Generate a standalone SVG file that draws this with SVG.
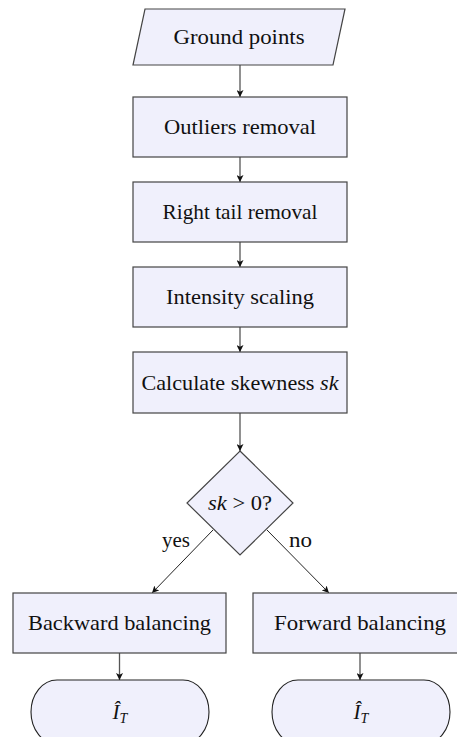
<svg xmlns="http://www.w3.org/2000/svg" width="457" height="737" viewBox="0 0 457 737">
  <defs>
    <marker id="arrow" viewBox="0 0 10 10" refX="10" refY="5" markerWidth="7" markerHeight="7" markerUnits="userSpaceOnUse" orient="auto">
      <path d="M0,0 L10,5 L0,10 L2.5,5 Z" fill="#111"/>
    </marker>
    <style>
      .box { fill: #f0f0fc; stroke: #444; stroke-width: 1.2; }
      .term { fill: #f0f0fc; stroke: #222; stroke-width: 1.1; }
      .lbl { font-family: "Liberation Serif", "Times New Roman", serif; font-size: 21px; fill: #111; text-anchor: middle; }
      .side { font-family: "Liberation Serif", "Times New Roman", serif; font-size: 21px; fill: #111; }
      .it { font-style: italic; }
      .vline { stroke: #555; stroke-width: 1.3; fill: none; }
      .dline { stroke: #222; stroke-width: 1; fill: none; }
    </style>
  </defs>

  <rect width="457" height="737" fill="#ffffff"/>

  <!-- connectors -->
  <g id="connectors">
    <line class="vline" x1="240" y1="65" x2="240" y2="97" marker-end="url(#arrow)"/>
    <line class="vline" x1="240" y1="157" x2="240" y2="182" marker-end="url(#arrow)"/>
    <line class="vline" x1="240" y1="242" x2="240" y2="267" marker-end="url(#arrow)"/>
    <line class="vline" x1="240" y1="327" x2="240" y2="352" marker-end="url(#arrow)"/>
    <line class="vline" x1="240" y1="413" x2="240" y2="451" marker-end="url(#arrow)"/>
    <line class="dline" x1="213" y1="530" x2="152" y2="593" marker-end="url(#arrow)"/>
    <line class="dline" x1="267" y1="530" x2="329" y2="593" marker-end="url(#arrow)"/>
    <line class="vline" x1="119.5" y1="653" x2="119.5" y2="680" marker-end="url(#arrow)"/>
    <line class="vline" x1="360" y1="653" x2="360" y2="680" marker-end="url(#arrow)"/>
    <text class="side" x="162" y="547" textLength="28" lengthAdjust="spacingAndGlyphs">yes</text>
    <text class="side" x="289" y="547" textLength="23" lengthAdjust="spacingAndGlyphs">no</text>
  </g>

  <!-- input -->
  <g id="ground-points">
    <polygon class="box" points="145,9 345,9 333,65 133,65"/>
    <text class="lbl" x="239" y="44" textLength="131" lengthAdjust="spacingAndGlyphs">Ground points</text>
  </g>

  <g id="outliers-removal">
    <rect class="box" x="133" y="97" width="214" height="60"/>
    <text class="lbl" x="240" y="134" textLength="152" lengthAdjust="spacingAndGlyphs">Outliers removal</text>
  </g>

  <g id="right-tail-removal">
    <rect class="box" x="133" y="182" width="214" height="60"/>
    <text class="lbl" x="240" y="219" textLength="155" lengthAdjust="spacingAndGlyphs">Right tail removal</text>
  </g>

  <g id="intensity-scaling">
    <rect class="box" x="133" y="267" width="214" height="60"/>
    <text class="lbl" x="240" y="304" textLength="148" lengthAdjust="spacingAndGlyphs">Intensity scaling</text>
  </g>

  <g id="calculate-skewness">
    <rect class="box" x="133" y="352" width="214" height="61"/>
    <text class="lbl" x="240" y="390" textLength="197" lengthAdjust="spacingAndGlyphs">Calculate skewness <tspan class="it">sk</tspan></text>
  </g>

  <!-- decision -->
  <g id="decision">
    <polygon class="box" points="240,451 293,503 240,555 187,503"/>
    <text class="lbl" x="240" y="510" textLength="64" lengthAdjust="spacingAndGlyphs"><tspan class="it">sk</tspan> &gt; 0?</text>
  </g>

  <g id="backward-balancing">
    <rect class="box" x="13" y="593" width="213" height="60"/>
    <text class="lbl" x="119.5" y="630" textLength="183" lengthAdjust="spacingAndGlyphs">Backward balancing</text>
  </g>

  <g id="forward-balancing">
    <rect class="box" x="253" y="593" width="214" height="60"/>
    <text class="lbl" x="360" y="630" textLength="172" lengthAdjust="spacingAndGlyphs">Forward balancing</text>
  </g>

  <!-- outputs -->
  <g id="output-left">
    <path class="term" d="M57,680 H183 A26,32 0 0 1 183,744 H57 A26,32 0 0 1 57,680 Z"/>
    <text class="lbl it" x="120" y="719">Î<tspan font-size="14" dy="4">T</tspan></text>
  </g>

  <g id="output-right">
    <path class="term" d="M298,680 H424 A26,32 0 0 1 424,744 H298 A26,32 0 0 1 298,680 Z"/>
    <text class="lbl it" x="361" y="719">Î<tspan font-size="14" dy="4">T</tspan></text>
  </g>
</svg>
